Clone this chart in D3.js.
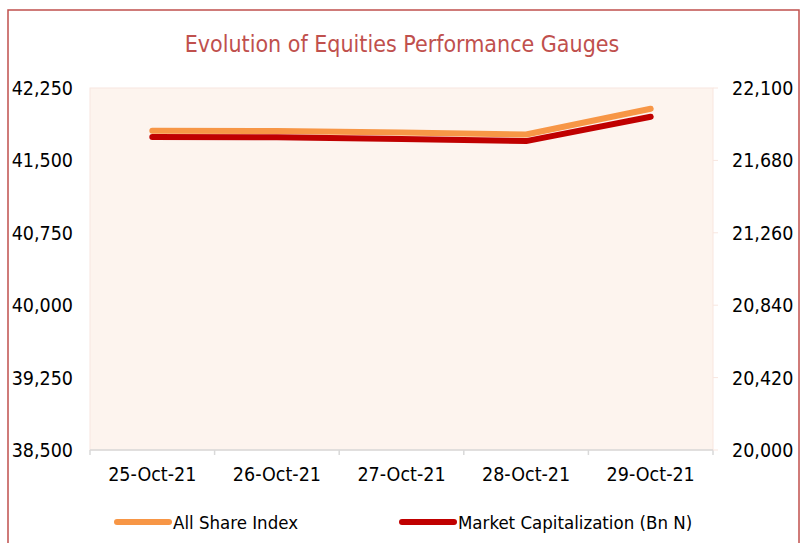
<!DOCTYPE html>
<html lang="en">
  <head>
    <title>Evolution of Equities Performance Gauges</title>
    <script src="https://d3js.org/d3.v7.min.js" charset="utf-8"></script>
    <style type="text/css">
      body {
        margin: 0;
        background: white;
        font-family: "Liberation Sans Narrow", "DejaVu Sans Condensed", sans-serif;
      }
    </style>
  </head>
  <body>
    <script>
      var width = 804;
      var height = 543;

      // data
      var dates = ["25-Oct-21", "26-Oct-21", "27-Oct-21", "28-Oct-21", "29-Oct-21"];
      var asi = [41808, 41805, 41788, 41768, 42035];
      var mcap = [21816, 21814, 21804, 21792, 21933];
      var leftTicks = [38500, 39250, 40000, 40750, 41500, 42250];
      var rightTicks = [20000, 20420, 20840, 21260, 21680, 22100];

      var plot = {left: 90, right: 713, top: 88, bottom: 450};

      var svg = d3.select("body")
        .append("svg")
        .attr("width", width)
        .attr("height", height);

      // outer frame
      svg.append("rect")
        .attr("x", 8).attr("y", 10)
        .attr("width", 791).attr("height", 560)
        .attr("fill", "none")
        .attr("stroke", "#c0504d")
        .attr("stroke-width", 1.5);

      // title
      svg.append("text")
        .attr("x", 402).attr("y", 52)
        .attr("text-anchor", "middle")
        .attr("font-size", 23)
        .attr("fill", "#c0504d")
        .text("Evolution of Equities Performance Gauges");

      var x = d3.scaleBand().domain(dates).range([plot.left, plot.right]);
      var yL = d3.scaleLinear().domain([38500, 42250]).range([plot.bottom, plot.top]);
      var yR = d3.scaleLinear().domain([20000, 22100]).range([plot.bottom, plot.top]);

      // plot background
      svg.append("rect")
        .attr("x", plot.left).attr("y", plot.top)
        .attr("width", plot.right - plot.left)
        .attr("height", plot.bottom - plot.top)
        .attr("fill", "#fdf4ee")
        .attr("stroke", "#f8e6df")
        .attr("stroke-width", 1);

      // bottom axis
      var xAxis = svg.append("g")
        .attr("transform", "translate(0," + plot.bottom + ")");
      xAxis.append("line")
        .attr("x1", plot.left).attr("x2", plot.right)
        .attr("stroke", "#d9d9d9").attr("stroke-width", 1.5);
      xAxis.selectAll(".tick")
        .data(dates.concat(["end"]))
        .enter()
        .append("line")
        .attr("x1", function(d) { return d == "end" ? plot.right : x(d); })
        .attr("x2", function(d) { return d == "end" ? plot.right : x(d); })
        .attr("y1", 0).attr("y2", 5)
        .attr("stroke", "#d9d9d9").attr("stroke-width", 1.5);
      xAxis.selectAll("text")
        .data(dates)
        .enter()
        .append("text")
        .attr("x", function(d) { return x(d) + x.bandwidth() / 2; })
        .attr("y", 31)
        .attr("text-anchor", "middle")
        .attr("font-size", 19.5)
        .attr("fill", "#000")
        .text(function(d) { return d; });

      // left axis labels
      svg.append("g").selectAll("text")
        .data(leftTicks)
        .enter()
        .append("text")
        .attr("x", 73)
        .attr("y", function(d) { return yL(d) + 7; })
        .attr("text-anchor", "end")
        .attr("font-size", 19.5)
        .text(d3.format(","));

      // right axis
      var right = svg.append("g");
      right.selectAll("line")
        .data(rightTicks)
        .enter()
        .append("line")
        .attr("x1", plot.right).attr("x2", plot.right + 5)
        .attr("y1", function(d) { return yR(d); })
        .attr("y2", function(d) { return yR(d); })
        .attr("stroke", "#f8e6df");
      right.selectAll("text")
        .data(rightTicks)
        .enter()
        .append("text")
        .attr("x", 732)
        .attr("y", function(d) { return yR(d) + 7; })
        .attr("font-size", 19.5)
        .text(d3.format(","));

      var cx = function(d, i) { return x(dates[i]) + x.bandwidth() / 2; };

      // lines
      svg.append("path")
        .datum(asi)
        .attr("fill", "none")
        .attr("stroke", "#f79646")
        .attr("stroke-width", 6)
        .attr("stroke-linecap", "round")
        .attr("stroke-linejoin", "round")
        .attr("d", d3.line().x(cx).y(function(d) { return yL(d); }));

      svg.append("path")
        .datum(mcap)
        .attr("fill", "none")
        .attr("stroke", "#c00000")
        .attr("stroke-width", 6)
        .attr("stroke-linecap", "round")
        .attr("stroke-linejoin", "round")
        .attr("d", d3.line().x(cx).y(function(d) { return yR(d); }));

      // legend
      var legend = [
        {name: "All Share Index", color: "#f79646", x: 117},
        {name: "Market Capitalization (Bn N)", color: "#c00000", x: 402}
      ];
      var lg = svg.append("g").selectAll("g")
        .data(legend)
        .enter()
        .append("g")
        .attr("transform", function(d) { return "translate(" + d.x + ",522)"; });
      lg.append("line")
        .attr("x1", 0).attr("x2", 52)
        .attr("stroke", function(d) { return d.color; })
        .attr("stroke-width", 6)
        .attr("stroke-linecap", "round");
      lg.append("text")
        .attr("x", 56).attr("y", 7)
        .attr("font-size", 18.5)
        .text(function(d) { return d.name; });
    </script>
  </body>
</html>
